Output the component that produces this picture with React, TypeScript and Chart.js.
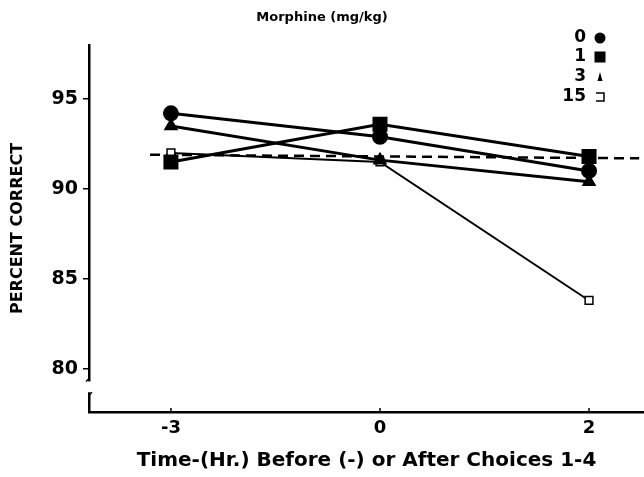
import React, { useEffect, useRef } from "react";
import { Chart, registerables } from "chart.js";

Chart.register(...registerables);

// ---- data ----
const timeLabels = ["-3", "0", "2"];
const timePositions = [0, 1, 2];
const doseLabels = ["0", "1", "3", "15"];
const dose0 = [94.2, 92.9, 91.0];
const dose1 = [91.5, 93.6, 91.8];
const dose3 = [93.5, 91.6, 90.4];
const dose15 = [92.0, 91.5, 83.8];
const baselineX = [-0.1, 2.24];
const baselineY = [91.9, 91.7];
const yTicks = [80, 85, 90, 95];

const FONT = "'DejaVu Sans', sans-serif";

const toPts = (vals: number[]) => vals.map((v, i) => ({ x: timePositions[i], y: v }));

const drawMarker = (ctx: CanvasRenderingContext2D, style: string, x: number, y: number) => {
  ctx.save();
  ctx.fillStyle = "#000";
  ctx.strokeStyle = "#000";
  ctx.lineWidth = 1.5;
  if (style === "circle") {
    ctx.beginPath();
    ctx.arc(x, y, 5.5, 0, Math.PI * 2);
    ctx.fill();
  } else if (style === "rect") {
    ctx.fillRect(x - 5.5, y - 5.5, 11, 11);
  } else if (style === "triangle") {
    ctx.beginPath();
    ctx.moveTo(x, y - 5);
    ctx.lineTo(x + 2.5, y + 4);
    ctx.lineTo(x - 2.5, y + 4);
    ctx.closePath();
    ctx.fill();
  } else {
    ctx.beginPath();
    ctx.moveTo(x - 4, y - 4);
    ctx.lineTo(x + 4, y - 4);
    ctx.lineTo(x + 4, y + 4);
    ctx.lineTo(x - 4, y + 4);
    ctx.stroke();
  }
  ctx.restore();
};

const decorPlugin = {
  id: "decor",
  afterDraw(chart: any) {
    const { ctx, chartArea, scales } = chart;
    const y = scales.y;
    const x = scales.x;
    // axis break
    const yTop = y.getPixelForValue(79.3);
    const yBot = y.getPixelForValue(78.7);
    ctx.save();
    ctx.fillStyle = "#fff";
    ctx.fillRect(chartArea.left - 3, yTop, 7, yBot - yTop);
    ctx.strokeStyle = "#000";
    ctx.lineWidth = 1.5;
    ctx.beginPath();
    ctx.moveTo(chartArea.left, yTop - 3);
    ctx.lineTo(chartArea.left - 3, yTop);
    ctx.moveTo(chartArea.left, yBot + 3);
    ctx.lineTo(chartArea.left + 3, yBot);
    ctx.stroke();
    // upward x ticks
    ctx.lineWidth = 1.5;
    timePositions.forEach((p) => {
      const px = x.getPixelForValue(p);
      ctx.beginPath();
      ctx.moveTo(px, chartArea.bottom);
      ctx.lineTo(px, chartArea.bottom - 4);
      ctx.stroke();
    });
    // legend
    ctx.fillStyle = "#000";
    ctx.font = `bold 17px ${FONT}`;
    ctx.textAlign = "right";
    ctx.textBaseline = "middle";
    const rows = [38, 57, 77, 97];
    chart.data.datasets.slice(0, 4).forEach((ds: any, i: number) => {
      ctx.fillText(ds.label, 586, rows[i]);
      drawMarker(ctx, ds.legendStyle, 600, rows[i]);
    });
    ctx.restore();
  },
};

export default function App() {
  const ref = useRef<HTMLCanvasElement>(null);
  useEffect(() => {
    if (!ref.current) return;
    const lineBase = { borderColor: "#000", pointBorderColor: "#000", showLine: true, borderWidth: 3 };
    const chart = new Chart(ref.current, {
      type: "scatter",
      data: {
        datasets: [
          { ...lineBase, label: doseLabels[0], data: toPts(dose0), pointStyle: "circle", pointRadius: 6.5, pointBackgroundColor: "#000", legendStyle: "circle" } as any,
          { ...lineBase, label: doseLabels[1], data: toPts(dose1), pointStyle: "rect", pointRadius: 8.5, pointBackgroundColor: "#000", legendStyle: "rect" } as any,
          { ...lineBase, label: doseLabels[2], data: toPts(dose3), pointStyle: "triangle", pointRadius: 5.5, pointBackgroundColor: "#000", legendStyle: "triangle" } as any,
          { ...lineBase, borderWidth: 2, label: doseLabels[3], data: toPts(dose15), pointStyle: "rect", pointRadius: 5.5, pointBorderWidth: 1.5, pointBackgroundColor: "#fff", legendStyle: "open" } as any,
          { label: "baseline", data: baselineX.map((v, i) => ({ x: v, y: baselineY[i] })), showLine: true, borderColor: "#000", borderWidth: 2.5, borderDash: [10, 6], pointRadius: 0 } as any,
        ],
      },
      options: {
        animation: false,
        responsive: false,
        devicePixelRatio: 1,
        layout: { padding: 0, autoPadding: false },
        plugins: {
          legend: { display: false },
          tooltip: { enabled: false },
          title: {
            display: true,
            text: "Morphine (mg/kg)",
            color: "#000",
            font: { family: FONT, size: 13, weight: "bold" },
            padding: { top: 10, bottom: 19.4 },
          },
        },
        scales: {
          x: {
            type: "linear",
            min: -0.392,
            max: 2.263,
            afterBuildTicks: (s: any) => {
              s.ticks = timePositions.map((v) => ({ value: v }));
            },
            afterFit: (s: any) => {
              s.height = 65;
              s.paddingRight = 0;
              s.paddingLeft = 0;
            },
            ticks: {
              color: "#000",
              font: { family: FONT, size: 18, weight: "bold" },
              padding: 6,
              maxRotation: 0,
              autoSkip: false,
              callback: (v: any) => timeLabels[timePositions.indexOf(Number(v))],
            },
            grid: { display: true, drawOnChartArea: false, drawTicks: false, tickLength: 0 },
            border: { color: "#000", width: 2.5 },
            title: {
              display: true,
              text: "Time-(Hr.) Before (-) or After Choices 1-4",
              color: "#000",
              font: { family: FONT, size: 20, weight: "bold" },
              padding: { top: 0, bottom: 4 },
            },
          },
          y: {
            type: "linear",
            min: 77.6,
            max: 98,
            afterBuildTicks: (s: any) => {
              s.ticks = yTicks.map((v) => ({ value: v }));
            },
            afterFit: (s: any) => {
              s.width = 89;
            },
            ticks: {
              color: "#000",
              font: { family: FONT, size: 19, weight: "bold" },
              padding: 5,
            },
            grid: { display: true, drawOnChartArea: false, drawTicks: true, tickLength: 6, color: "#000", lineWidth: 1.5 },
            border: { color: "#000", width: 2.5 },
            title: {
              display: true,
              text: "PERCENT CORRECT",
              color: "#000",
              font: { family: FONT, size: 16, weight: "bold" },
              padding: { top: 8.4, bottom: 0 },
            },
          },
        },
      },
      plugins: [decorPlugin],
    });
    return () => chart.destroy();
  }, []);
  return (
    <div style={{ position: "fixed", left: 0, top: 0, width: 644, height: 477, background: "#fff" }}>
      <canvas ref={ref} width={644} height={477} />
    </div>
  );
}
